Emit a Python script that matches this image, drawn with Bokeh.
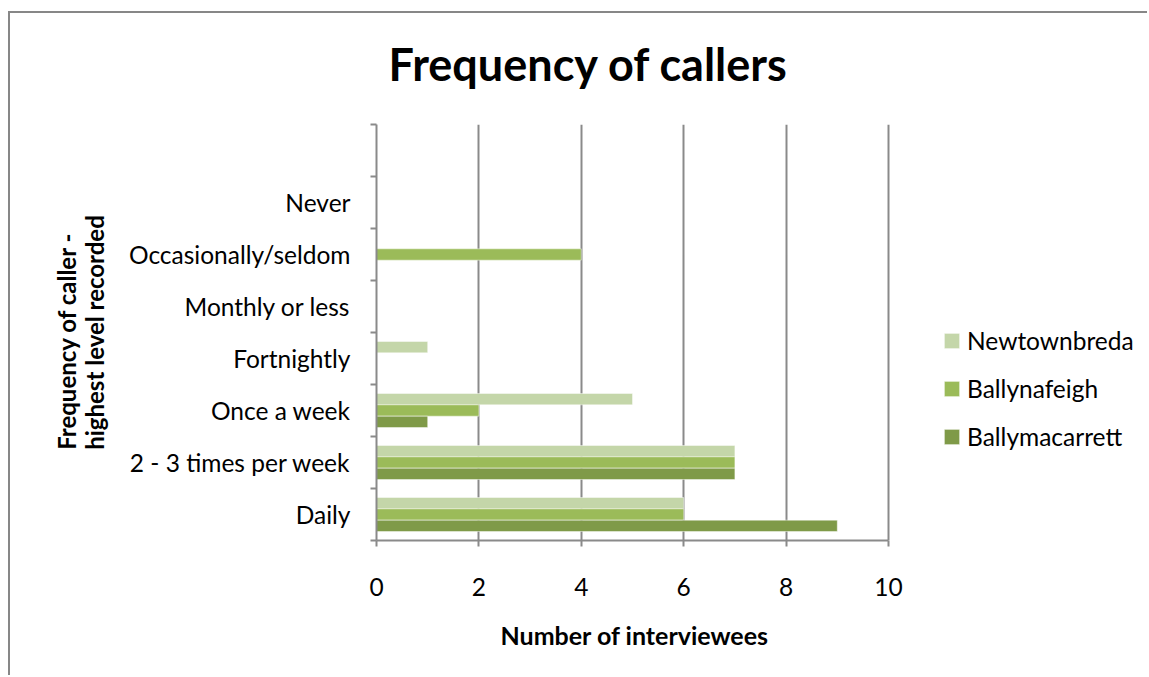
from bokeh.plotting import figure
from bokeh.models import ColumnDataSource, FixedTicker, Legend, LegendItem, Range1d, Title
from bokeh.embed import file_html
from bokeh.resources import INLINE

# ---- data (bottom to top) ----
categories = ["Daily", "2 - 3 times per week", "Once a week", "Fortnightly",
              "Monthly or less", "Occasionally/seldom", "Never", ""]
newtownbreda = [6, 7, 5, 1, 0, 0, 0, 0]
ballynafeigh = [6, 7, 2, 0, 0, 4, 0, 0]
ballymacarrett = [9, 7, 1, 0, 0, 0, 0, 0]
series_names = ["Newtownbreda", "Ballynafeigh", "Ballymacarrett"]
series_values = [newtownbreda, ballynafeigh, ballymacarrett]
series_colors = ["#C4D6A9", "#9BBB59", "#7F9A48"]
x_ticks = [0, 2, 4, 6, 8, 10]

FONT = "Lato"
GRAY = "#8A8A8A"
FRAME_GRAY = "#878787"

W, H = 1147, 675
BL, BR, BT, BB = 376, 5, 123, 135
axis_px = 512                      # pixel length of the 0..10 value axis
frame_w = W - BL - BR
x_max = x_ticks[-1] * frame_w / axis_px   # frame extends past 10 to hold the legend

p = figure(width=W, height=H, output_backend="svg", toolbar_location=None,
           x_range=Range1d(0, x_max), y_range=Range1d(0, len(categories)),
           min_border_left=BL, min_border_right=BR, min_border_top=BT,
           min_border_bottom=BB)
# chart-area border (left and top edges visible in the reference)
p.styles = {
    "background-image": f"linear-gradient({FRAME_GRAY}, {FRAME_GRAY}), "
                        f"linear-gradient({FRAME_GRAY}, {FRAME_GRAY})",
    "background-repeat": "no-repeat",
    "background-size": "100% 2px, 2px 100%",
    "background-position": "8px 11px, 8px 11px",
}
p.outline_line_color = None
p.background_fill_color = None
p.border_fill_color = None

bar_h = 0.218
offsets = [bar_h, 0.0, -bar_h]
renderers = []
for name, vals, col, off in zip(series_names, series_values, series_colors, offsets):
    ys = [i + 0.5 + off for i, v in enumerate(vals) if v > 0]
    xs = [v for v in vals if v > 0]
    src = ColumnDataSource(dict(y=ys, right=xs))
    r = p.hbar(y="y", right="right", left=0, height=bar_h, source=src,
               fill_color=col, line_color="white", line_alpha=0.45, line_width=1)
    renderers.append(r)

# grid
p.ygrid.visible = False
p.xgrid.ticker = FixedTicker(ticks=x_ticks[1:])
p.xgrid.grid_line_color = GRAY
p.xgrid.grid_line_width = 2

# x axis
p.xaxis.bounds = (x_ticks[0], x_ticks[-1])
p.xaxis.ticker = FixedTicker(ticks=x_ticks)
p.xaxis.axis_line_color = GRAY
p.xaxis.axis_line_width = 2
p.xaxis.major_tick_line_color = GRAY
p.xaxis.major_tick_line_width = 2
p.xaxis.major_tick_out = 6
p.xaxis.major_tick_in = 0
p.xaxis.minor_tick_line_color = None
p.xaxis.major_label_text_font = FONT
p.xaxis.major_label_text_font_size = "24.5px"
p.xaxis.major_label_text_color = "black"
p.xaxis.major_label_standoff = 31

# y axis
p.yaxis.ticker = FixedTicker(ticks=[i + 0.5 for i in range(len(categories))],
                             minor_ticks=list(range(len(categories) + 1)))
p.yaxis.major_label_overrides = {i + 0.5: c for i, c in enumerate(categories)}
p.yaxis.axis_line_color = GRAY
p.yaxis.axis_line_width = 2
p.yaxis.major_tick_line_color = None
p.yaxis.major_tick_out = 0
p.yaxis.major_tick_in = 0
p.yaxis.minor_tick_line_color = GRAY
p.yaxis.minor_tick_line_width = 2
p.yaxis.minor_tick_out = 6
p.yaxis.minor_tick_in = 0
p.yaxis.major_label_text_font = FONT
p.yaxis.major_label_text_font_size = "24.5px"
p.yaxis.major_label_text_color = "black"
p.yaxis.major_label_standoff = 20

# chart title
p.title = Title(text="Frequency of callers", align="left", offset=12,
                standoff=68, text_font=FONT, text_font_style="bold",
                text_font_size="45px", text_color="black")

# y-axis title (two lines)
p.add_layout(Title(text="Frequency of caller -\nhighest level recorded",
                   align="center", standoff=32, text_font=FONT,
                   text_font_style="bold", text_font_size="24px",
                   text_line_height=0.97, text_color="black"), "left")

# x-axis title, centred under the 0..10 axis
p.add_layout(Title(text="Number of interviewees", align="left", offset=124,
                   standoff=38, text_font=FONT, text_font_style="bold",
                   text_font_size="25px", text_color="black"), "below")

legend = Legend(items=[LegendItem(label=n, renderers=[r])
                       for n, r in zip(series_names, renderers)],
                location=(566, 89), orientation="vertical",
                glyph_width=19, glyph_height=19, label_height=30,
                spacing=18, padding=0, margin=0, label_standoff=6,
                label_text_font=FONT, label_text_font_size="24.5px",
                label_text_color="black", border_line_color=None,
                background_fill_alpha=0)
p.add_layout(legend, "center")

open("out.html", "w").write(file_html(p, INLINE))
